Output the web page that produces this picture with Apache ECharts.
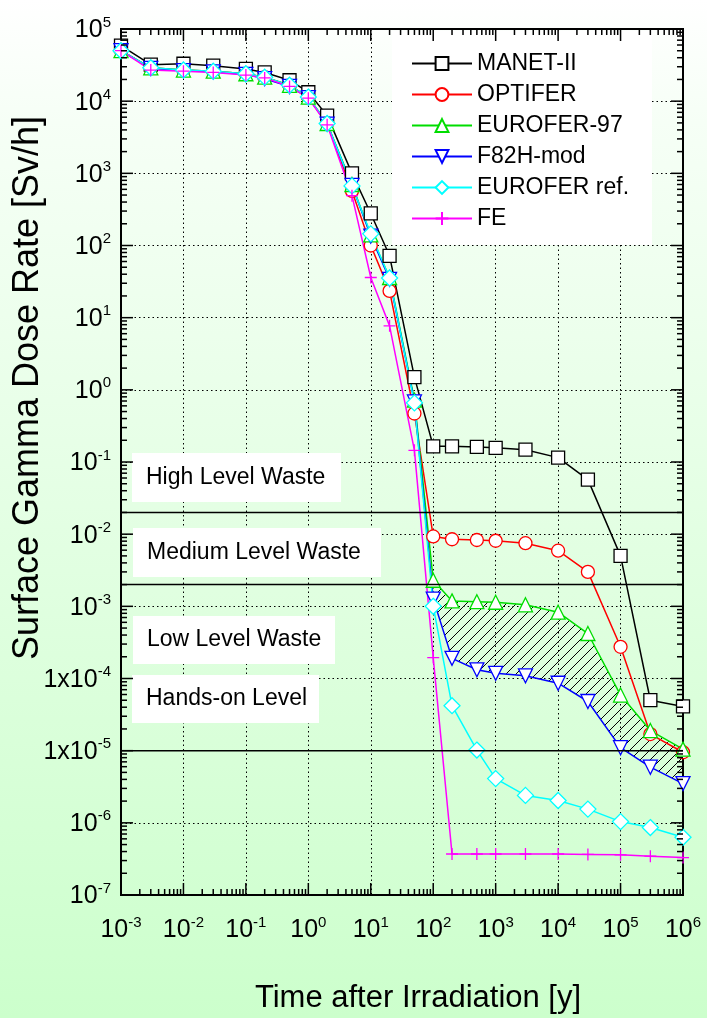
<!DOCTYPE html>
<html>
<head>
<meta charset="utf-8">
<script src="https://cdn.jsdelivr.net/npm/echarts@6/dist/echarts.min.js"></script>
<style>
  html, body { margin: 0; padding: 0; }
  body { width: 707px; height: 1018px; background: linear-gradient(to bottom, #ffffff 0%, #f6fff6 12%, #ccffcc 100%); }
  #main { width: 707px; height: 1018px; }
</style>
</head>
<body>
<div id="main"></div>
<script>
// time after irradiation [y]
const years = [1e-3, 3e-3, 1e-2, 3e-2, 0.1, 0.2, 0.5, 1, 2, 5, 10, 20, 50,
  100, 200, 500, 1e3, 3e3, 1e4, 3e4, 1e5, 3e5, 1e6];

// surface gamma dose rate [Sv/h]
const manet = [5.9e4, 3.2e4, 3.3e4, 3.1e4, 2.8e4, 2.5e4, 1.95e4, 1.33e4, 6.3e3, 1000, 278, 72, 1.5,
  0.165, 0.165, 0.162, 0.157, 0.148, 0.115, 0.057, 5.0e-3, 5.0e-5, 4.1e-5];
const optifer = [5.0e4, 2.9e4, 2.7e4, 2.6e4, 2.4e4, 2.15e4, 1.66e4, 1.14e4, 4.9e3, 570, 100, 23.5, 0.47,
  9.3e-3, 8.5e-3, 8.3e-3, 8.1e-3, 7.5e-3, 5.9e-3, 3.0e-3, 2.75e-4, 1.7e-5, 9.5e-6];
const eurofer97 = [5.0e4, 2.9e4, 2.7e4, 2.6e4, 2.4e4, 2.15e4, 1.66e4, 1.14e4, 4.9e3, 700, 140, 36, 0.72,
  2.3e-3, 1.19e-3, 1.16e-3, 1.14e-3, 1.05e-3, 8.3e-4, 4.2e-4, 5.9e-5, 1.9e-5, 1.05e-5];
const f82h = [5.0e4, 2.85e4, 2.65e4, 2.55e4, 2.35e4, 2.05e4, 1.6e4, 1.12e4, 4.8e3, 680, 135, 34, 0.68,
  1.26e-3, 1.9e-4, 1.32e-4, 1.18e-4, 1.09e-4, 8.6e-5, 4.8e-5, 1.1e-5, 5.9e-6, 3.5e-6];
const euroferRef = [5.0e4, 2.9e4, 2.7e4, 2.6e4, 2.4e4, 2.15e4, 1.66e4, 1.14e4, 4.9e3, 670, 145, 35.5, 0.66,
  1.0e-3, 4.2e-5, 1.02e-5, 4.1e-6, 2.4e-6, 2.04e-6, 1.55e-6, 1.04e-6, 8.6e-7, 6.3e-7];
const fe = [5.0e4, 2.7e4, 2.6e4, 2.5e4, 2.3e4, 2.1e4, 1.6e4, 1.1e4, 4.7e3, 490, 36, 7.7, 0.145,
  1.95e-4, 3.7e-7, 3.7e-7, 3.7e-7, 3.7e-7, 3.7e-7, 3.65e-7, 3.6e-7, 3.45e-7, 3.3e-7];

const seriesNames = ['MANET-II', 'OPTIFER', 'EUROFER-97', 'F82H-mod', 'EUROFER ref.', 'FE'];

// waste class limits [Sv/h]
const wasteLimits = [2e-2, 2e-3, 1e-5];
const wasteLabels = ['High Level Waste', 'Medium Level Waste', 'Low Level Waste', 'Hands-on Level'];

const FONT = 'Liberation Sans, Arial, sans-serif';
const X_MIN = 1e-3, X_MAX = 1e6, Y_MIN = 1e-7, Y_MAX = 1e5;

// label boxes (pixels)
const boxLayout = [
  { x: 132, y: 453, w: 209, h: 49 },
  { x: 133, y: 528, w: 248, h: 49 },
  { x: 133, y: 616, w: 202, h: 48 },
  { x: 132, y: 675, w: 187, h: 48 }
];

// hatch pattern
const hatch = document.createElement('canvas');
hatch.width = 10; hatch.height = 10;
const hg = hatch.getContext('2d');
hg.strokeStyle = '#000';
hg.lineWidth = 1;
hg.beginPath();
hg.moveTo(0, 10); hg.lineTo(10, 0);
hg.moveTo(-1, 1); hg.lineTo(1, -1);
hg.moveTo(9, 11); hg.lineTo(11, 9);
hg.stroke();

function powLabel(v, withOne) {
  const e = Math.round(Math.log10(v));
  const base = (withOne && (e === -4 || e === -5)) ? '1x10' : '10';
  return '{b|' + base + '}{s|' + e + '}';
}

const richLabel = {
  b: { fontSize: 25, fontFamily: FONT, color: '#000', lineHeight: 28, verticalAlign: 'bottom' },
  s: { fontSize: 15, fontFamily: FONT, color: '#000', lineHeight: 28, verticalAlign: 'top' }
};

function lineSeries(name, values, color, symbol, size, rotate) {
  return {
    name: name,
    type: 'line',
    data: years.map((x, i) => [x, values[i]]),
    symbol: symbol,
    symbolSize: size,
    symbolRotate: rotate || 0,
    showSymbol: true,
    lineStyle: { color: color, width: 1.5 },
    itemStyle: { color: '#fff', borderColor: color, borderWidth: 1.3 },
    z: 3
  };
}

const plus = 'path://M0,5L10,5M5,0L5,10';

const series = [
  lineSeries('MANET-II', manet, '#000000', 'rect', 13),
  lineSeries('OPTIFER', optifer, '#ff0000', 'circle', 13),
  lineSeries('EUROFER-97', eurofer97, '#00dd00', 'triangle', 14),
  lineSeries('F82H-mod', f82h, '#0000ff', 'triangle', 14, 180),
  lineSeries('EUROFER ref.', euroferRef, '#00ffff', 'diamond', 16),
  lineSeries('FE', fe, '#ff00ff', plus, 12)
];
series[5].itemStyle = { color: '#ff00ff', borderColor: '#ff00ff', borderWidth: 1.3 };

// hatched band between EUROFER-97 and F82H-mod after 100 y
const hatchStart = years.indexOf(100);
series.push({
  type: 'custom',
  silent: true,
  z: 2,
  data: [[100, 1e-3]],
  renderItem: function (params, api) {
    const pts = [];
    for (let i = hatchStart; i < years.length; i++) pts.push(api.coord([years[i], eurofer97[i]]));
    for (let i = years.length - 1; i >= hatchStart; i--) pts.push(api.coord([years[i], f82h[i]]));
    return { type: 'polygon', shape: { points: pts }, style: { fill: { image: hatch, repeat: 'repeat' }, stroke: null } };
  }
});

const chart = echarts.init(document.getElementById('main'));
chart.setOption({
  animation: false,
  backgroundColor: 'transparent',
  grid: { left: 121, top: 29, width: 562, height: 866, show: true, borderColor: '#000', borderWidth: 2 },
  legend: {
    data: seriesNames,
    orient: 'vertical',
    left: 411,
    top: 52,
    padding: 0,
    itemWidth: 60,
    itemHeight: 16,
    itemGap: 8,
    textStyle: { fontSize: 23, fontFamily: FONT, color: '#000' },
    z: 6
  },
  xAxis: {
    type: 'log',
    logBase: 10,
    min: X_MIN,
    max: X_MAX,
    interval: 1,
    splitNumber: 9,
    axisLine: { show: false },
    axisTick: { show: false },
    splitLine: { show: true, lineStyle: { color: '#000', width: 1, type: [1.5, 3] } },
    axisLabel: { interval: 0, margin: 20, formatter: v => powLabel(v, false), rich: richLabel }
  },
  yAxis: {
    type: 'log',
    logBase: 10,
    min: Y_MIN,
    max: Y_MAX,
    interval: 1,
    splitNumber: 12,
    axisLine: { show: false },
    axisTick: { show: false },
    splitLine: { show: true, lineStyle: { color: '#000', width: 1, type: [1.5, 3] } },
    axisLabel: { interval: 0, margin: 10, formatter: v => powLabel(v, true), rich: richLabel }
  },
  series: series
});

// overlay elements positioned through the chart's own scales
const toPx = (x, y) => chart.convertToPixel({ gridIndex: 0 }, [x, y]);
const lbPx = toPx(X_MIN, Y_MIN), rtPx = toPx(X_MAX, Y_MAX);
const gLeft = lbPx[0], gBottom = lbPx[1], gRight = rtPx[0], gTop = rtPx[1];

const graphics = [
  { type: 'rect', shape: { x: 392, y: 31, width: 260, height: 214 }, style: { fill: '#fff' }, z: 1 },
  {
    type: 'text', x: 28, y: 388, rotation: Math.PI / 2, z: 5,
    style: { text: 'Surface Gamma Dose Rate [Sv/h]', fontSize: 36, fontFamily: FONT, fill: '#000', align: 'center', verticalAlign: 'middle' }
  },
  {
    type: 'text', x: 418, y: 998, z: 5,
    style: { text: 'Time after Irradiation [y]', fontSize: 31, fontFamily: FONT, fill: '#000', align: 'center', verticalAlign: 'middle' }
  }
];
boxLayout.forEach((b, i) => {
  graphics.push({ type: 'rect', shape: { x: b.x, y: b.y, width: b.w, height: b.h }, style: { fill: '#fff' }, z: 1 });
  graphics.push({
    type: 'text', x: b.x + 14, y: b.y + b.h / 2, z: 2,
    style: { text: wasteLabels[i], fontSize: 23, fontFamily: FONT, fill: '#000', verticalAlign: 'middle' }
  });
});

// waste limit lines
wasteLimits.forEach(v => {
  const py = toPx(1, v)[1];
  graphics.push({ type: 'line', z: 4, shape: { x1: gLeft, y1: py, x2: gRight, y2: py }, style: { stroke: '#000', lineWidth: 1.5 } });
});

// log ticks on all four sides
const tickStyle = { stroke: '#000', lineWidth: 1.5 };
for (let e = -3; e <= 6; e++) {
  for (let m = 1; m <= 9; m++) {
    const v = m * Math.pow(10, e);
    if (v > X_MAX * 1.0001) break;
    const px = toPx(v, 1)[0];
    const len = m === 1 ? 12 : 6;
    graphics.push({ type: 'line', z: 6, shape: { x1: px, y1: gBottom, x2: px, y2: gBottom - len }, style: tickStyle });
    graphics.push({ type: 'line', z: 6, shape: { x1: px, y1: gTop, x2: px, y2: gTop + len }, style: tickStyle });
  }
}
for (let e = -7; e <= 5; e++) {
  for (let m = 1; m <= 9; m++) {
    const v = m * Math.pow(10, e);
    if (v > Y_MAX * 1.0001) break;
    const py = toPx(1, v)[1];
    const len = m === 1 ? 12 : 6;
    graphics.push({ type: 'line', z: 6, shape: { x1: gLeft, y1: py, x2: gLeft + len, y2: py }, style: tickStyle });
    graphics.push({ type: 'line', z: 6, shape: { x1: gRight, y1: py, x2: gRight - len, y2: py }, style: tickStyle });
  }
}

chart.setOption({ graphic: graphics });
</script>
</body>
</html>
